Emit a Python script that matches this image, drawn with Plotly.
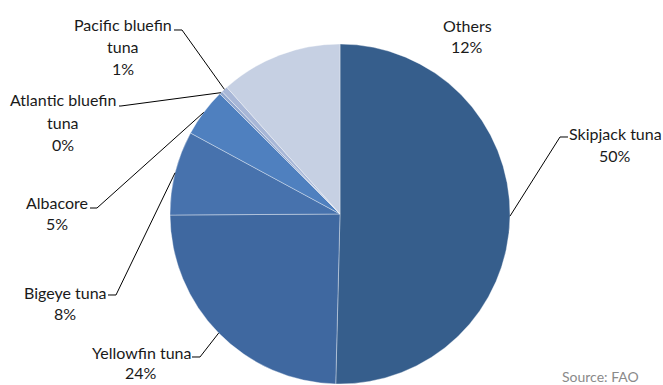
import math
import plotly.graph_objects as go

# Global tuna catch by species (share of total)
species = ["Skipjack tuna", "Yellowfin tuna", "Bigeye tuna", "Albacore",
           "Atlantic bluefin tuna", "Pacific bluefin tuna", "Others"]
share = [50.4, 24.5, 8.0, 4.6, 0.3, 0.6, 11.6]
colors = ["#365E8C", "#3F68A0", "#4772AD", "#4F80BF", "#93A8CF", "#A8B7D7", "#C6D0E3"]

# label text split into lines (name lines, then the percentage)
label_lines = [
    ["Skipjack tuna"], ["Yellowfin tuna"], ["Bigeye tuna"], ["Albacore"],
    ["Atlantic bluefin", "tuna"], ["Pacific bluefin", "tuna"], ["Others"],
]

W, H = 663, 385
CX, CY, R = 340, 214, 170

# label placement: centre x, first-line y, line step (px)
label_pos = [
    (615, 133, 22), (141, 352, 20), (65, 292, 21), (57, 203, 20),
    (63, 100, 22), (123, 24, 22), (467, 25, 21),
]
# leader line start (label side) and elbow points, px; None = no leader
leader = [
    [(568, 137), (560, 137)],
    [(192, 357), (200, 357)],
    [(108, 295), (116, 295)],
    [(90, 208), (97, 208)],
    [(119, 106), (121, 106)],
    [(174, 30), (182, 30)],
    None,
]


def px(x, y):
    return x / W, 1 - y / H


fig = go.Figure(go.Pie(
    labels=species, values=share, sort=False, direction="clockwise", rotation=0,
    marker=dict(colors=colors, line=dict(color="rgba(255,255,255,0.6)", width=0.6)),
    textinfo="none", hoverinfo="label+percent", showlegend=False,
    domain=dict(x=[(CX - R) / W, (CX + R) / W], y=[1 - (CY + R) / H, 1 - (CY - R) / H]),
))

total = sum(share)
annotations = []
shapes = []
cum = 0.0
for name, v, lines, (lx, ly, step), ld in zip(species, share, label_lines, label_pos, leader):
    mid = (cum + v / 2) / total
    cum += v
    pct = f"{round(100 * v / total):d}%"
    for i, t in enumerate(lines + [pct]):
        x, y = px(lx, ly + i * step)
        annotations.append(dict(x=x, y=y, xref="paper", yref="paper", text=t,
                                showarrow=False, xanchor="center", yanchor="middle",
                                font=dict(family="Lato", size=16, color="#1a1a1a")))
    if ld:
        a = 2 * math.pi * mid
        tip = (CX + R * math.sin(a), CY - R * math.cos(a))
        pts = [px(*p) for p in ld + [tip]]
        path = "M " + " L ".join(f"{x:.5f},{y:.5f}" for x, y in pts)
        shapes.append(dict(type="path", path=path, xref="paper", yref="paper",
                           line=dict(color="#000000", width=1)))

# source note along the lower edge
sx, sy = px(600, 376)
annotations.append(dict(x=sx, y=sy, xref="paper", yref="paper", text="Source: FAO",
                        showarrow=False, xanchor="center", yanchor="middle",
                        font=dict(family="Lato", size=14, color="#8a8a8a")))

fig.update_layout(
    width=W, height=H, margin=dict(l=0, r=0, t=0, b=0),
    paper_bgcolor="white", plot_bgcolor="white",
    annotations=annotations, shapes=shapes,
)

fig.write_html("out.html")
